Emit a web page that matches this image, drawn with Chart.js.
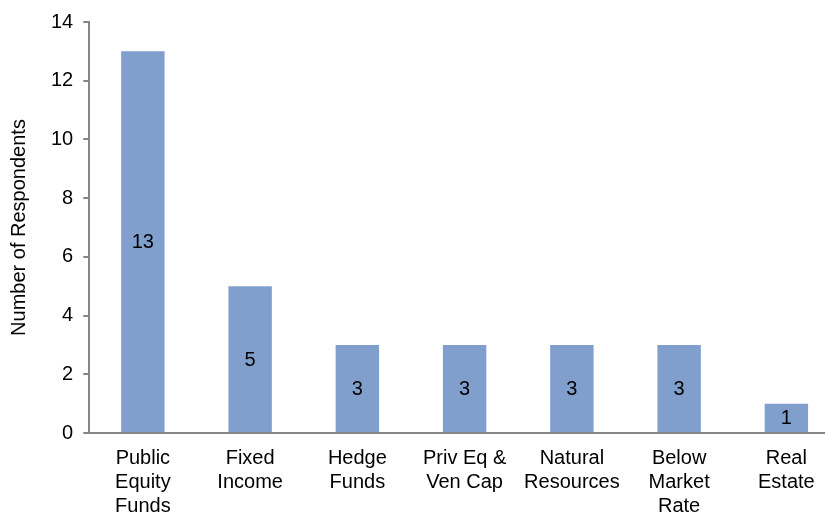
<!DOCTYPE html>
<html>
<head>
<meta charset="utf-8">
<script src="https://cdn.jsdelivr.net/npm/chart.js@4/dist/chart.umd.min.js"></script>
<style>
    html, body { margin: 0; padding: 0; background: #fff; overflow: hidden; }
    #wrap { width: 840px; height: 514px; }
</style>
</head>
<body>
<div id="wrap"><canvas id="respChart" width="840" height="514"></canvas></div>
<script>
// Number of respondents by asset class
const categories = [
    ['Public', 'Equity', 'Funds'],
    ['Fixed', 'Income'],
    ['Hedge', 'Funds'],
    ['Priv Eq &', 'Ven Cap'],
    ['Natural', 'Resources'],
    ['Below', 'Market', 'Rate'],
    ['Real', 'Estate']
];
const respondents = [13, 5, 3, 3, 3, 3, 1];
const yTicks = [0, 2, 4, 6, 8, 10, 12, 14];

const axisColor = '#868686';
const fontFamily = '"Liberation Sans", Arial, sans-serif';

// write the value in the middle of each bar
const barLabels = {
    id: 'barLabels',
    afterDatasetsDraw(chart) {
        const ctx = chart.ctx;
        const meta = chart.getDatasetMeta(0);
        ctx.save();
        ctx.font = '20px ' + fontFamily;
        ctx.fillStyle = '#000';
        ctx.textAlign = 'center';
        ctx.textBaseline = 'middle';
        meta.data.forEach((bar, i) => {
            ctx.fillText(respondents[i], bar.x, (bar.y + bar.base) / 2 + 1);
        });
        ctx.restore();
    }
};

new Chart(document.getElementById('respChart'), {
    type: 'bar',
    data: {
        labels: categories,
        datasets: [{
            data: respondents,
            backgroundColor: '#819fcd',
            borderWidth: 0,
            barPercentage: 0.405,
            categoryPercentage: 1.0
        }]
    },
    options: {
        responsive: false,
        animation: false,
        layout: { padding: { top: 8, left: 7, right: 0, bottom: -9 } },
        plugins: {
            legend: { display: false },
            tooltip: { enabled: false }
        },
        scales: {
            x: {
                grid: { display: false },
                border: { display: true, color: axisColor, width: 2 },
                ticks: {
                    color: '#000',
                    font: { family: fontFamily, size: 20, lineHeight: 1.2 },
                    maxRotation: 0,
                    autoSkip: false,
                    padding: 5
                }
            },
            y: {
                min: 0,
                max: 14,
                afterBuildTicks(axis) {
                    axis.ticks = yTicks.map(v => ({ value: v }));
                },
                grid: {
                    display: true,
                    drawOnChartArea: false,
                    drawTicks: true,
                    tickLength: 6,
                    color: axisColor,
                    lineWidth: 2
                },
                border: { display: true, color: axisColor, width: 2 },
                ticks: {
                    color: '#000',
                    font: { family: fontFamily, size: 20 },
                    padding: 10
                },
                title: {
                    display: true,
                    text: 'Number of Respondents',
                    color: '#000',
                    font: { family: fontFamily, size: 20 },
                    padding: { top: 0, bottom: 10 }
                }
            }
        }
    },
    plugins: [barLabels]
});
</script>
</body>
</html>
